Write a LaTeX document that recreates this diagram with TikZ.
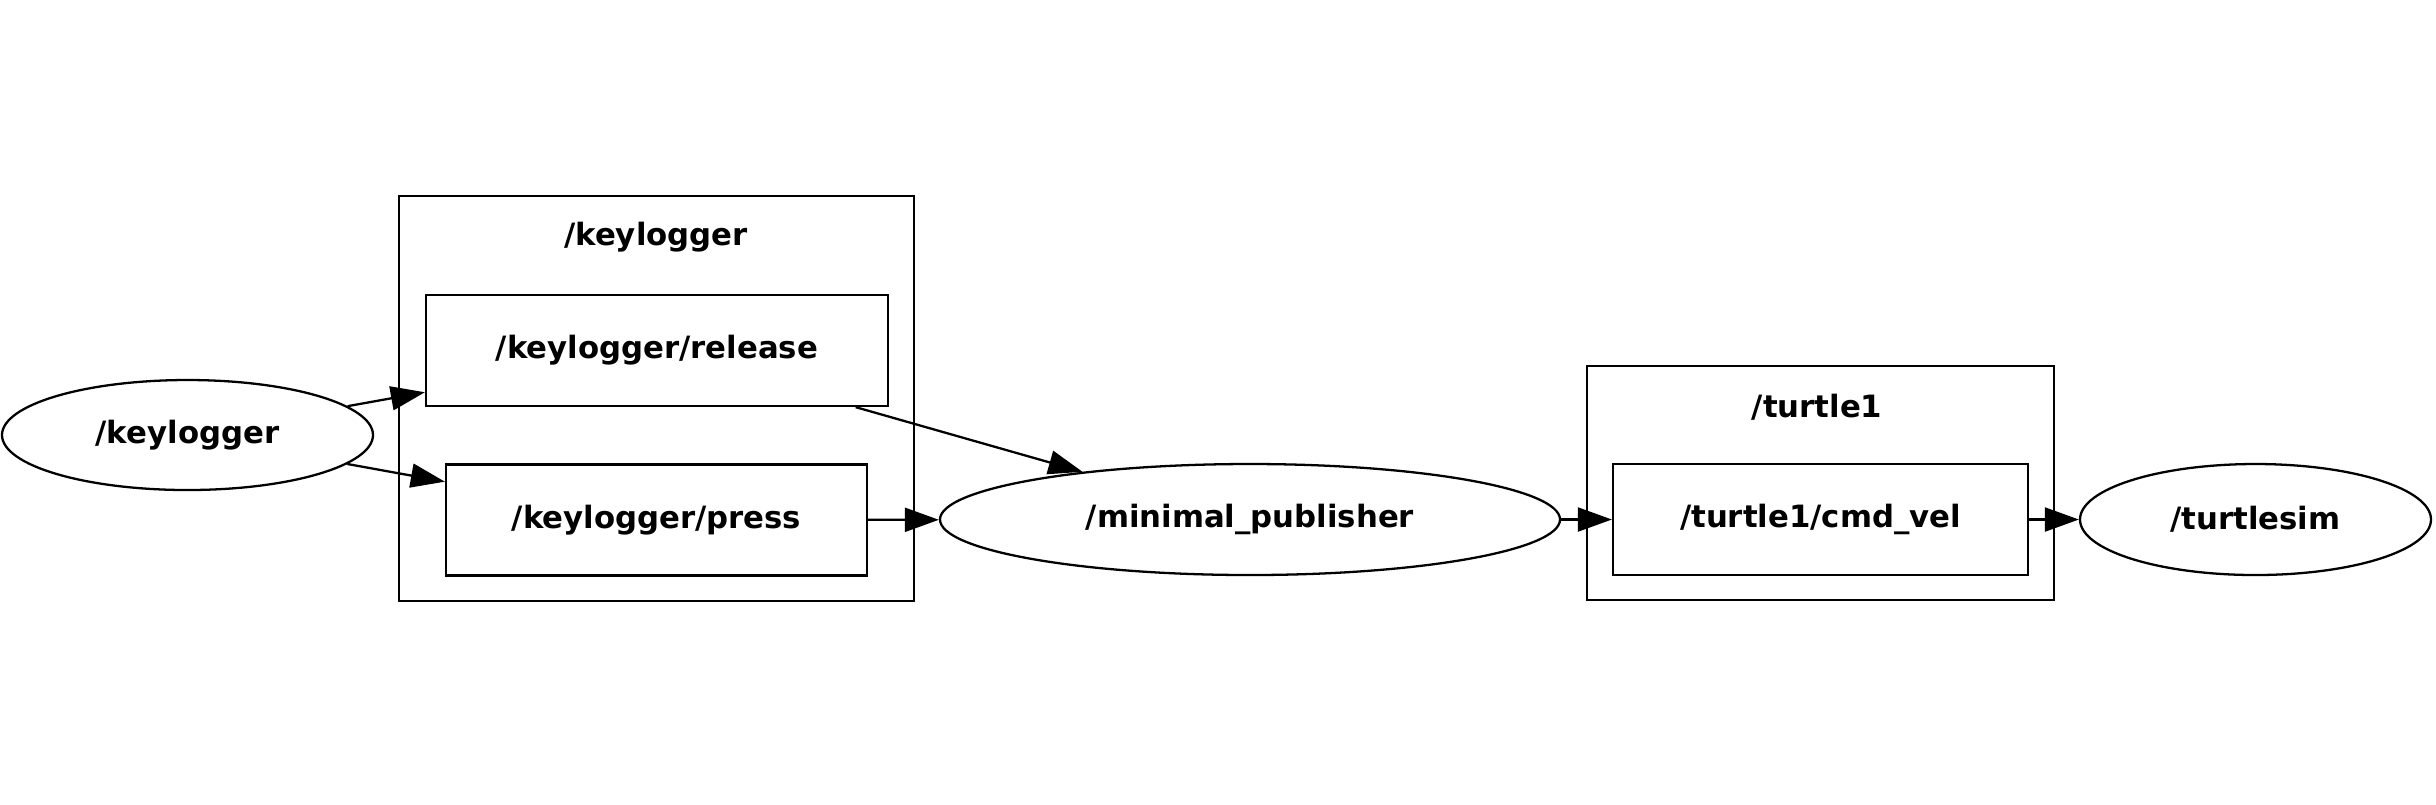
\documentclass[tikz,border=0pt]{standalone}
\usepackage{fontspec}
\setmainfont{DejaVu Sans}
\usetikzlibrary{positioning,arrows.meta}
\usetikzlibrary{shapes.geometric}

\tikzset{
  topic/.style={draw, line width=0.65pt, rectangle, inner sep=0pt, minimum height=1.11cm},
  rosnode/.style={draw, line width=0.65pt, ellipse, inner sep=0pt, minimum height=1.11cm},
  cluster/.style={draw, line width=0.55pt, rectangle, inner sep=0pt},
  edge/.style={-{Triangle[length=0.34cm,width=0.24cm]}, line width=0.65pt},
}

\begin{document}
\begin{tikzpicture}[font=\fontsize{8.75}{10}\selectfont\bfseries]
		\useasboundingbox (0,0) rectangle (24.36,-8.04);
		
		%namespaces
		\node (clkey) [cluster, minimum width=5.15cm, minimum height=4.05cm] at (6.565,-3.985) {};
		\node (clkeylabel) at (6.56,-2.37) {/keylogger};
		\node (clturtle) [cluster, minimum width=4.67cm, minimum height=2.34cm] at (18.205,-4.83) {};
		\node (clturtlelabel) at (18.17,-4.07) {/turtle1};
		
		%topics
		\node (release) [topic, minimum width=4.62cm] at (6.57,-3.505) {/keylogger/release};
		\node (press) [topic, minimum width=4.21cm] at (6.565,-5.2) {/keylogger/press};
		\node (cmdvel) [topic, minimum width=4.15cm] at (18.205,-5.195) {/turtle1/cmd\_vel};
		
		%nodes
		\node (keylogger) [rosnode, minimum width=3.71cm, minimum height=1.1cm] at (1.875,-4.35) {/keylogger};
		\node (minimal) [rosnode, minimum width=6.2cm] at (12.5,-5.195) {/minimal\_publisher};
		\node (turtlesim) [rosnode, minimum width=3.51cm] at (22.555,-5.195) {/turtlesim};
		
		\draw[edge] (keylogger) -- (release);
		\draw[edge] (keylogger) -- (press);
		\draw[edge] (release) -- (minimal);
		\draw[edge] (press) -- (minimal);
		\draw[edge] (minimal) -- (cmdvel);
		\draw[edge] (cmdvel) -- (turtlesim);
\end{tikzpicture}
\end{document}
